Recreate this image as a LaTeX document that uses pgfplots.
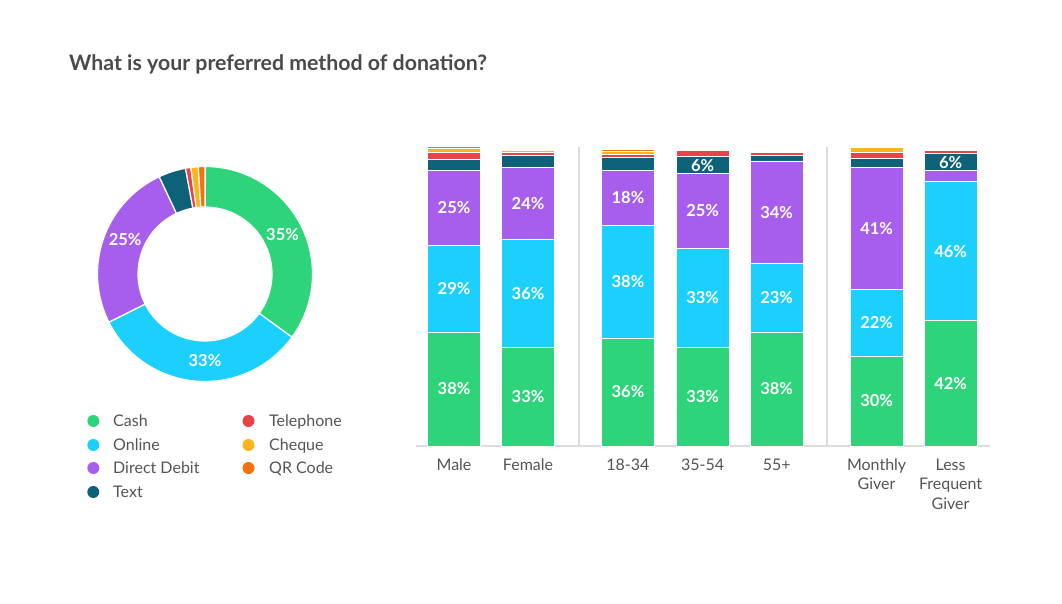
\documentclass[border=0pt]{standalone}
\usepackage{pgfplots}
\pgfplotsset{compat=1.18}
\usepackage{pgfplotstable}
\usepackage{fontspec}
\setmainfont{Lato}

\definecolor{cash}{HTML}{2ED47A}
\definecolor{online}{HTML}{1BD0FD}
\definecolor{dd}{HTML}{A75EEC}
\definecolor{textc}{HTML}{0D6279}
\definecolor{tel}{HTML}{E8434B}
\definecolor{cheque}{HTML}{FBB51C}
\definecolor{qr}{HTML}{F6710B}
\definecolor{labgray}{HTML}{555555}
\definecolor{titlegray}{HTML}{4A4A4A}
\definecolor{linegray}{HTML}{DDDDDD}

% stacked shares (percent) per group
\pgfplotstableread{
x    cash online dd   text tel cheque qr
0    38.1 29.1  24.8 3.7  2.4 1.4 0.5
1    33.1 36.1  23.9 4.0  0.9 0.7 0.4
2.35 36.1 37.8  18.1 4.4  1.0 1.1 0.5
3.36 33.1 33.1  24.8 5.9  2.0 0   0
4.36 38.1 23.1  33.8 2.0  1.1 0   0
5.71 30.1 22.1  40.8 3.1  2.1 1.5 0.3
6.71 42.1 46.2  3.7  5.8  1.1 0   0
}\bardata

% donut slice: colour, start (percent), value (percent)
\newcommand{\donutslice}[3]{%
  \filldraw[fill=#1, draw=white, line width=1.2pt]
   ({107.5*cos(90-3.6*#2)}, {107.5*sin(90-3.6*#2)})
   arc[start angle={90-3.6*#2}, end angle={90-3.6*(#2+#3)}, radius=107.5pt]
   -- ({67*cos(90-3.6*(#2+#3))}, {67*sin(90-3.6*(#2+#3))})
   arc[start angle={90-3.6*(#2+#3)}, end angle={90-3.6*#2}, radius=67pt] -- cycle;}
\newcommand{\donutlabel}[2]{% position (percent), text
  \node[text=white, font=\bfseries\fontsize{16.5}{19}\selectfont]
   at ({87*cos(90-3.6*#1)}, {87*sin(90-3.6*#1)}) {#2};}

\begin{document}
\begin{tikzpicture}
\useasboundingbox[fill=white] (0,0) rectangle (1062pt,-604pt);

\node[anchor=base west, inner sep=0pt, text=titlegray,
      font=\bfseries\fontsize{21.3}{25}\selectfont] at (69pt,-71pt)
  {What is your preferred method of donation?};

% donut
\begin{axis}[at={(205pt,-274pt)}, anchor=center, x=1pt, y=1pt,
  xmin=-110, xmax=110, ymin=-110, ymax=110, hide axis, clip=false]
  \donutslice{cash}{0}{35.0}
  \donutslice{online}{35.0}{32.6}
  \donutslice{dd}{67.6}{25.4}
  \donutslice{textc}{93.0}{4.1}
  \donutslice{tel}{97.1}{0.8}
  \donutslice{cheque}{97.9}{1.1}
  \donutslice{qr}{99.0}{1.0}
  \donutlabel{17.5}{35\%}
  \donutlabel{50.0}{33\%}
  \donutlabel{81.5}{25\%}
\end{axis}

% legend
\foreach \yy/\cc/\tt in {421/cash/Cash, 445/online/Online, 468/dd/Direct Debit, 492/textc/Text}{
  \fill[\cc] (93.3pt,-\yy pt) circle (6pt);
  \node[anchor=base west, inner sep=0pt, text=labgray, font=\fontsize{16}{19}\selectfont]
    at (113pt,-\yy pt-5.8pt) {\tt};
}
\foreach \yy/\cc/\tt in {421/tel/Telephone, 445/cheque/Cheque, 468/qr/QR Code}{
  \fill[\cc] (248.5pt,-\yy pt) circle (6pt);
  \node[anchor=base west, inner sep=0pt, text=labgray, font=\fontsize{16}{19}\selectfont]
    at (269pt,-\yy pt-5.8pt) {\tt};
}

% stacked bars
\begin{axis}[at={(416pt,-446pt)}, anchor=south west,
  x=74pt, y=2.99pt, xmin=-0.514, xmax=7.24, ymin=0, ymax=100,
  ybar stacked, bar width=53pt, clip=false,
  axis x line=bottom, axis y line=none,
  x axis line style={draw=linegray, line width=1.8pt, -},
  xtick={0,1,2.35,3.36,4.36,5.71,6.71},
  xticklabels={Male, Female, 18-34, 35-54, 55+, {Monthly\\Giver}, {Less\\Frequent\\Giver}},
  major tick length=0pt, ytick=\empty,
  xticklabel style={anchor=north, inner sep=0pt, yshift=-12.5pt, align=center,
    text=labgray, font=\fontsize{16}{19.5}\selectfont},
  every axis plot/.append style={draw=white, line width=1pt}]
  \addplot[fill=cash]   table[x=x, y=cash]   {\bardata};
  \addplot[fill=online] table[x=x, y=online] {\bardata};
  \addplot[fill=dd]     table[x=x, y=dd]     {\bardata};
  \addplot[fill=textc]  table[x=x, y=text]   {\bardata};
  \addplot[fill=tel]    table[x=x, y=tel]    {\bardata};
  \addplot[fill=cheque] table[x=x, y=cheque] {\bardata};
  \addplot[fill=qr]     table[x=x, y=qr]     {\bardata};
  \draw[linegray, line width=1.5pt] (axis cs:1.69,0) -- (axis cs:1.69,100);
  \draw[linegray, line width=1.5pt] (axis cs:5.04,0) -- (axis cs:5.04,100);
\end{axis}

% bar value labels
\begin{axis}[at={(416pt,-446pt)}, anchor=south west,
  x=74pt, y=2.99pt, xmin=-0.514, xmax=7.24, ymin=0, ymax=100,
  hide axis, clip=false, no markers,
  /pgf/number format/assume math mode=true,
  every axis plot/.append style={draw=none, mark=none, point meta=explicit,
    nodes near coords={\pgfmathprintnumber[fixed,precision=0,assume math mode=true]{\pgfplotspointmeta}\%},
    nodes near coords style={anchor=center, text=white,
      font=\bfseries\fontsize{16.5}{19}\selectfont}}]
  \addplot[] table[x=x, y expr=\thisrow{cash}/2, meta=cash] {\bardata};
  \addplot[] table[x=x, y expr=\thisrow{cash}+\thisrow{online}/2, meta=online] {\bardata};
  \addplot[restrict expr to domain={\thisrow{dd}}{5:100}]
    table[x=x, y expr=\thisrow{cash}+\thisrow{online}+\thisrow{dd}/2, meta=dd] {\bardata};
  \addplot[restrict expr to domain={\thisrow{text}}{5:100}]
    table[x=x, y expr=\thisrow{cash}+\thisrow{online}+\thisrow{dd}+\thisrow{text}/2, meta=text] {\bardata};
\end{axis}
\end{tikzpicture}
\end{document}
